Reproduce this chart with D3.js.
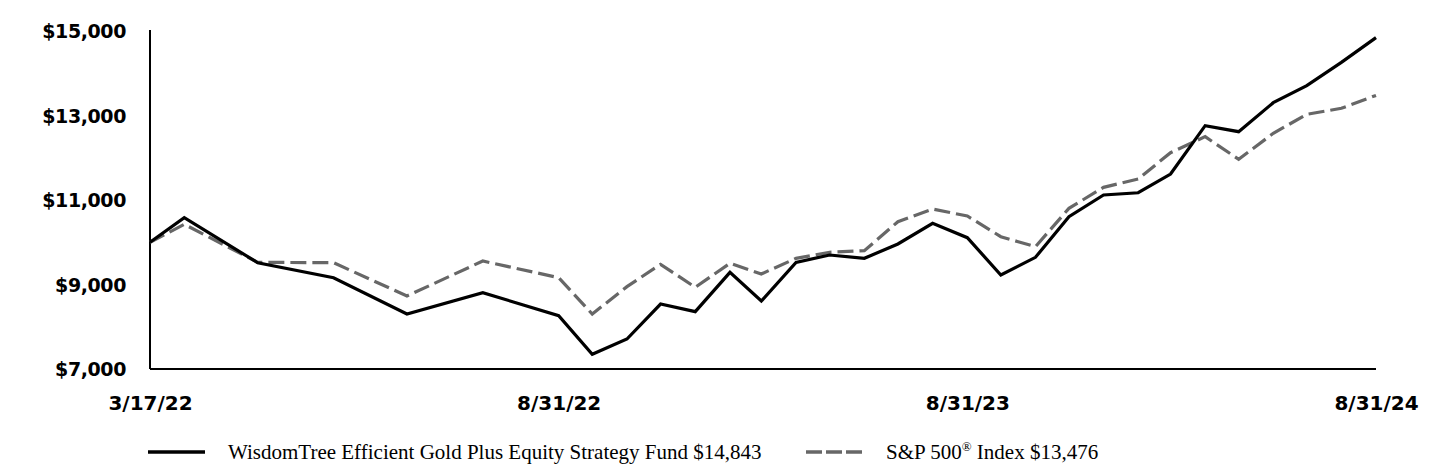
<!doctype html>
<html>
<head>
<meta charset="utf-8">
<script src="https://d3js.org/d3.v7.min.js"></script>
<style>
body { margin: 0; background: #fff; }
.tick-label { font-family: "DejaVu Sans", sans-serif; font-weight: bold; font-size: 20px; fill: #000; }
.y-label { font-size: 19px; letter-spacing: -0.4px; }
.legend text { font-family: "Liberation Serif", "Times New Roman", serif; font-size: 21px; fill: #000; }
</style>
</head>
<body>
<svg width="1440" height="468" class="chart"></svg>
<script>
// month-end values, growth of $10,000
var dates = ["2022-03-17","2022-03-31","2022-04-30","2022-05-31","2022-06-30","2022-07-31","2022-08-31",
  "2022-09-30","2022-10-31","2022-11-30","2022-12-31","2023-01-31","2023-02-28","2023-03-31","2023-04-30",
  "2023-05-31","2023-06-30","2023-07-31","2023-08-31","2023-09-30","2023-10-31","2023-11-30","2023-12-31",
  "2024-01-31","2024-02-29","2024-03-31","2024-04-30","2024-05-31","2024-06-30","2024-07-31","2024-08-31"];

var fund = [10000,10581,9515,9160,8302,8807,8262,7348,7710,8538,8357,9288,8609,9520,9698,9620,9959,10448,10108,
  9225,9643,10606,11118,11172,11615,12759,12617,13304,13706,14258,14843];

var sp500 = [10000,10424,9525,9516,8728,9556,9161,8302,8949,9478,8934,9502,9249,9620,9762,9800,10487,10787,10621,
  10132,9895,10803,11300,11497,12120,12499,11963,12578,13028,13170,13476];

var xTickLabels = ["3/17/22","8/31/22","8/31/23","8/31/24"];
var yTicks = [7000,9000,11000,13000,15000];

var seriesNames = ["WisdomTree Efficient Gold Plus Equity Strategy Fund $14,843", "S&P 500", " Index $13,476"];

var parse = d3.timeParse("%Y-%m-%d");
var labelDates = ["2022-03-17","2022-08-31","2023-08-31","2024-08-31"].map(parse);

var svg = d3.select(".chart");
var plotL = 150, plotR = 1376, plotT = 31, plotB = 369;

// axis labels are evenly spaced, so the time scale is piecewise
var x = d3.scaleTime()
  .domain(labelDates)
  .range(labelDates.map(function(d,i){ return plotL + i*(plotR-plotL)/3; }));
var y = d3.scaleLinear().domain([7000,15000]).range([plotB, plotT]);

// y axis
var yAxis = svg.append("g")
  .attr("transform", "translate(" + plotL + ",0)")
  .call(d3.axisLeft(y).tickValues(yTicks).tickSize(0).tickPadding(24)
    .tickFormat(function(d){ return "$" + d3.format(",")(d); }));
yAxis.select(".domain").attr("stroke", "#000").attr("stroke-width", 2).attr("d", "M0," + (plotT-1) + "V" + plotB);
yAxis.selectAll("text").attr("class", "tick-label y-label").attr("dy", "0.35em");

// x axis
var xAxis = svg.append("g")
  .attr("transform", "translate(0," + plotB + ")")
  .call(d3.axisBottom(x).tickValues(labelDates).tickSize(0).tickPadding(27)
    .tickFormat(function(d,i){ return xTickLabels[i]; }));
xAxis.select(".domain").attr("stroke", "#000").attr("stroke-width", 2).attr("d", "M" + plotL + ",0H" + plotR);
xAxis.selectAll("text").attr("class", "tick-label").attr("dy", "0.71em");

var line = d3.line()
  .x(function(d,i){ return x(parse(dates[i])); })
  .y(function(d){ return y(d); });

svg.append("path").datum(sp500)
  .attr("fill", "none").attr("stroke", "#676767").attr("stroke-width", 3.2)
  .attr("stroke-dasharray", "16,6")
  .attr("d", line);

svg.append("path").datum(fund)
  .attr("fill", "none").attr("stroke", "#000").attr("stroke-width", 3.2)
  .attr("d", line);

// legend
var lg = svg.append("g").attr("class", "legend");
lg.append("line").attr("x1", 148).attr("x2", 205).attr("y1", 452).attr("y2", 452)
  .attr("stroke", "#000").attr("stroke-width", 3.5);
lg.append("text").attr("x", 228).attr("y", 459).text(seriesNames[0]);

lg.append("line").attr("x1", 806).attr("x2", 862).attr("y1", 452).attr("y2", 452)
  .attr("stroke", "#676767").attr("stroke-width", 3.5).attr("stroke-dasharray", "16,4");
var t2 = lg.append("text").attr("x", 886).attr("y", 459);
t2.append("tspan").text(seriesNames[1]);
t2.append("tspan").attr("font-size", "13px").attr("dy", -8).text("®");
t2.append("tspan").attr("dy", 8).text(seriesNames[2]);
</script>
</body>
</html>
